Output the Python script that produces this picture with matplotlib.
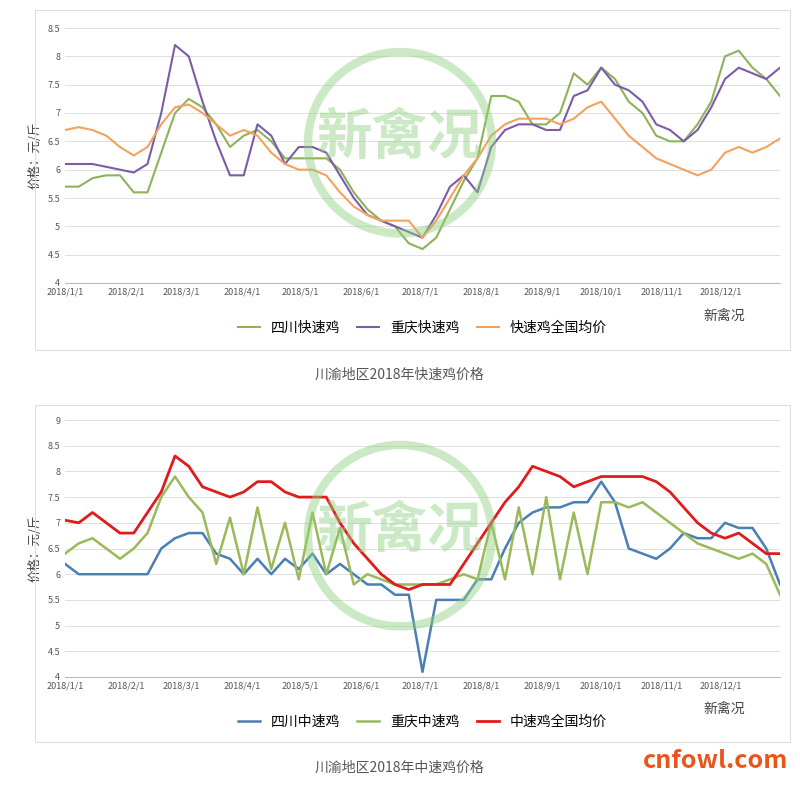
import matplotlib
matplotlib.use("Agg")
import matplotlib.pyplot as plt
import matplotlib.dates as mdates
import numpy as np, datetime as dt
from matplotlib.patches import Rectangle, Circle

plt.rcParams['font.family'] = ['Noto Sans CJK SC', 'DejaVu Sans']

dates = [dt.date(2018,1,1) + dt.timedelta(days=7*i) for i in range(53)]
tick_labels = ["2018/%d/1" % m for m in range(1,13)]

sc_fast = [5.7,5.7,5.85,5.9,5.9,5.6,5.6,6.3,7.0,7.25,7.1,6.8,6.4,6.6,6.7,6.5,6.2,6.2,6.2,6.2,6.0,5.6,5.3,5.1,5.0,4.7,4.6,4.8,5.3,5.8,6.2,7.3,7.3,7.2,6.8,6.8,7.0,7.7,7.5,7.8,7.6,7.2,7.0,6.6,6.5,6.5,6.8,7.2,8.0,8.1,7.8,7.6,7.3]
cq_fast = [6.1,6.1,6.1,6.05,6.0,5.95,6.1,7.0,8.2,8.0,7.2,6.5,5.9,5.9,6.8,6.6,6.1,6.4,6.4,6.3,5.9,5.5,5.2,5.1,5.0,4.9,4.8,5.2,5.7,5.9,5.6,6.4,6.7,6.8,6.8,6.7,6.7,7.3,7.4,7.8,7.5,7.4,7.2,6.8,6.7,6.5,6.7,7.1,7.6,7.8,7.7,7.6,7.8]
nat_fast = [6.7,6.75,6.7,6.6,6.4,6.25,6.4,6.8,7.1,7.15,7.0,6.8,6.6,6.7,6.6,6.3,6.1,6.0,6.0,5.9,5.6,5.35,5.2,5.1,5.1,5.1,4.8,5.1,5.5,5.9,6.2,6.6,6.8,6.9,6.9,6.9,6.8,6.9,7.1,7.2,6.9,6.6,6.4,6.2,6.1,6.0,5.9,6.0,6.3,6.4,6.3,6.4,6.55]

sc_med = [6.2,6.0,6.0,6.0,6.0,6.0,6.0,6.5,6.7,6.8,6.8,6.4,6.3,6.0,6.3,6.0,6.3,6.1,6.4,6.0,6.2,6.0,5.8,5.8,5.6,5.6,4.1,5.5,5.5,5.5,5.9,5.9,6.5,7.0,7.2,7.3,7.3,7.4,7.4,7.8,7.4,6.5,6.4,6.3,6.5,6.8,6.7,6.7,7.0,6.9,6.9,6.5,5.8]
cq_med = [6.4,6.6,6.7,6.5,6.3,6.5,6.8,7.5,7.9,7.5,7.2,6.2,7.1,6.0,7.3,6.1,7.0,5.9,7.2,6.0,6.9,5.8,6.0,5.9,5.8,5.8,5.8,5.8,5.9,6.0,5.9,7.0,5.9,7.3,6.0,7.5,5.9,7.2,6.0,7.4,7.4,7.3,7.4,7.2,7.0,6.8,6.6,6.5,6.4,6.3,6.4,6.2,5.6]
nat_med = [7.05,7.0,7.2,7.0,6.8,6.8,7.2,7.6,8.3,8.1,7.7,7.6,7.5,7.6,7.8,7.8,7.6,7.5,7.5,7.5,7.0,6.6,6.3,6.0,5.8,5.7,5.8,5.8,5.8,6.2,6.6,7.0,7.4,7.7,8.1,8.0,7.9,7.7,7.8,7.9,7.9,7.9,7.9,7.8,7.6,7.3,7.0,6.8,6.7,6.8,6.6,6.4,6.4]

fig = plt.figure(figsize=(8,7.89), dpi=100)
for y0, y1 in [(10,350),(405,742)]:
    fig.patches.append(Rectangle((35/800, 1-y1/789), 755/800, (y1-y0)/789, transform=fig.transFigure,
                                 fill=False, ec='#dddddd', lw=0.8))

def panel(rect, series, ylim, yticks, caption, cap_y, leg_y):
    ax = fig.add_axes(rect)
    for vals, col, lab, lw in series:
        ax.plot(dates, vals, color=col, lw=lw, label=lab)
    ax.set_ylim(*ylim); ax.set_yticks(yticks)
    ax.set_yticklabels([("%g" % v) for v in yticks], fontsize=6.5, color='#555555')
    ax.set_xlim(dt.date(2018,1,1), dt.date(2018,12,31))
    ax.set_xticks([dt.date(2018,m,1) for m in range(1,13)])
    ax.set_xticklabels(tick_labels, fontsize=6.5, color='#555555')
    ax.grid(axis='y', color='#e0e0e0', lw=0.7)
    for s in ['top','right','left']:
        ax.spines[s].set_visible(False)
    ax.spines['bottom'].set_color('#bbbbbb')
    ax.tick_params(length=0)
    ax.set_ylabel("价格：元/斤", fontsize=9, color='#444444')
    ax.legend(loc='upper center', bbox_to_anchor=(0.5, leg_y), ncol=3, frameon=False, fontsize=10,
              handlelength=1.6, columnspacing=1.2)
    fig.text(0.5, 1-cap_y/789, caption, ha='center', va='center', fontsize=10, color='#555555')
    # watermark
    b = ax.get_position()
    fig.patches.append(Circle((0.50, b.y0 + b.height*0.55), 0.115, transform=fig.transFigure,
                              fill=False, ec='#8fcf7f', lw=6, alpha=0.45))
    fig.text(0.50, b.y0 + b.height*0.57, "新禽况", ha='center', va='center', fontsize=40,
             color='#8fcf7f', alpha=0.45, fontweight='bold')
    fig.text(0.905, 1-(leg_y*0 + (cap_y-55))/789, "新禽况", fontsize=10, color='#444444', ha='center')
    return ax

panel([65/800, 1-283/789, 715/800, 255/789],
      [(sc_fast,'#8db35a','四川快速鸡',1.5),(cq_fast,'#7a5ca8','重庆快速鸡',1.5),(nat_fast,'#f2a25c','快速鸡全国均价',1.5)],
      (4,8.5), [4,4.5,5,5.5,6,6.5,7,7.5,8,8.5], "川渝地区2018年快速鸡价格", 375, -0.1)
panel([65/800, 1-677/789, 715/800, 257/789],
      [(sc_med,'#4a7fb5','四川中速鸡',1.8),(cq_med,'#9aba5a','重庆中速鸡',1.8),(nat_med,'#e01b1b','中速鸡全国均价',2.0)],
      (4,9), [4,4.5,5,5.5,6,6.5,7,7.5,8,8.5,9], "川渝地区2018年中速鸡价格", 768, -0.1)

fig.text(0.985, 0.035, "cnfowl.com", ha='right', va='center', fontsize=18, color='#e8561a', fontweight='bold')
fig.savefig("out.png", dpi=100)
